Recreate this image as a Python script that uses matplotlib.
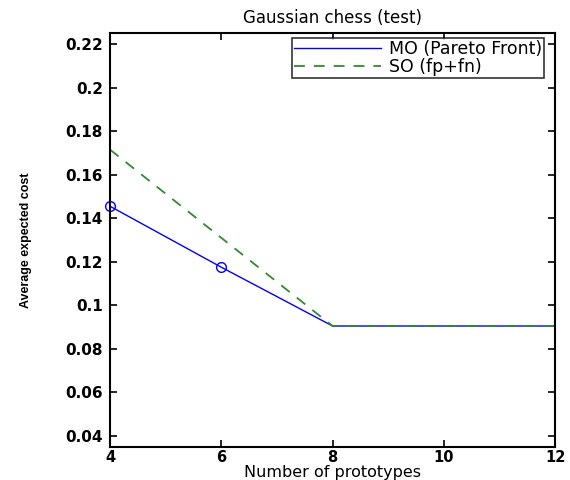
import matplotlib
matplotlib.use("Agg")
import matplotlib.pyplot as plt

plt.rcParams["font.family"] = ["DejaVu Sans"]

prototypes = [4, 6, 8, 10, 12]
mo_cost = [0.1455, 0.1175, 0.0905, 0.0905, 0.0905]
so_cost = [0.1715, 0.131, 0.0905, 0.0905, 0.0905]
yticks = [0.04, 0.06, 0.08, 0.1, 0.12, 0.14, 0.16, 0.18, 0.2, 0.22]
ytick_labels = ["0.04", "0.06", "0.08", "0.1", "0.12", "0.14", "0.16", "0.18", "0.2", "0.22"]

fig = plt.figure(figsize=(5.7, 4.8), dpi=100)
ax = fig.add_axes([0.193, 0.069, 0.781, 0.862])

ax.plot(prototypes, mo_cost, color="#0000ff", lw=1.0, label="MO (Pareto Front)")
# circles only on the first two points of the front
ax.plot(prototypes[:2], mo_cost[:2], ls="none", marker="o", ms=7, mfc="none",
        mec="#0000ff", clip_on=False)
ax.plot(prototypes, so_cost, color="#2e8b2e", lw=1.3, ls=(0, (6, 5)),
        label="SO (fp+fn)")

ax.set_xlim(4, 12)
ax.set_ylim(0.035, 0.225)
ax.set_xticks([4, 6, 8, 10, 12])
ax.set_yticks(yticks)
ax.set_yticklabels(ytick_labels)
ax.tick_params(direction="in", top=True, right=True, length=5, width=1.2,
               labelsize=11, pad=5)
ax.tick_params(axis="x", labelsize=10.5, pad=2)
for lab in ax.get_xticklabels() + ax.get_yticklabels():
    lab.set_fontweight("bold")
for sp in ax.spines.values():
    sp.set_linewidth(1.5)

ax.set_title("Gaussian chess (test)", fontsize=12, pad=7)
ax.set_xlabel("Number of prototypes", fontsize=11.5, labelpad=0)
ax.set_ylabel("Average expected cost", fontsize=9, family="Liberation Sans",
              fontweight="bold", labelpad=24)

leg = ax.legend(loc="upper right", bbox_to_anchor=(0.975, 0.988), fontsize=12.5,
                frameon=True, fancybox=False, borderaxespad=0, handlelength=5.0,
                borderpad=0.1, labelspacing=0.0, handletextpad=0.5)
leg.get_frame().set_edgecolor("black")
leg.get_frame().set_linewidth(1.2)

fig.savefig("out.png", dpi=100)
